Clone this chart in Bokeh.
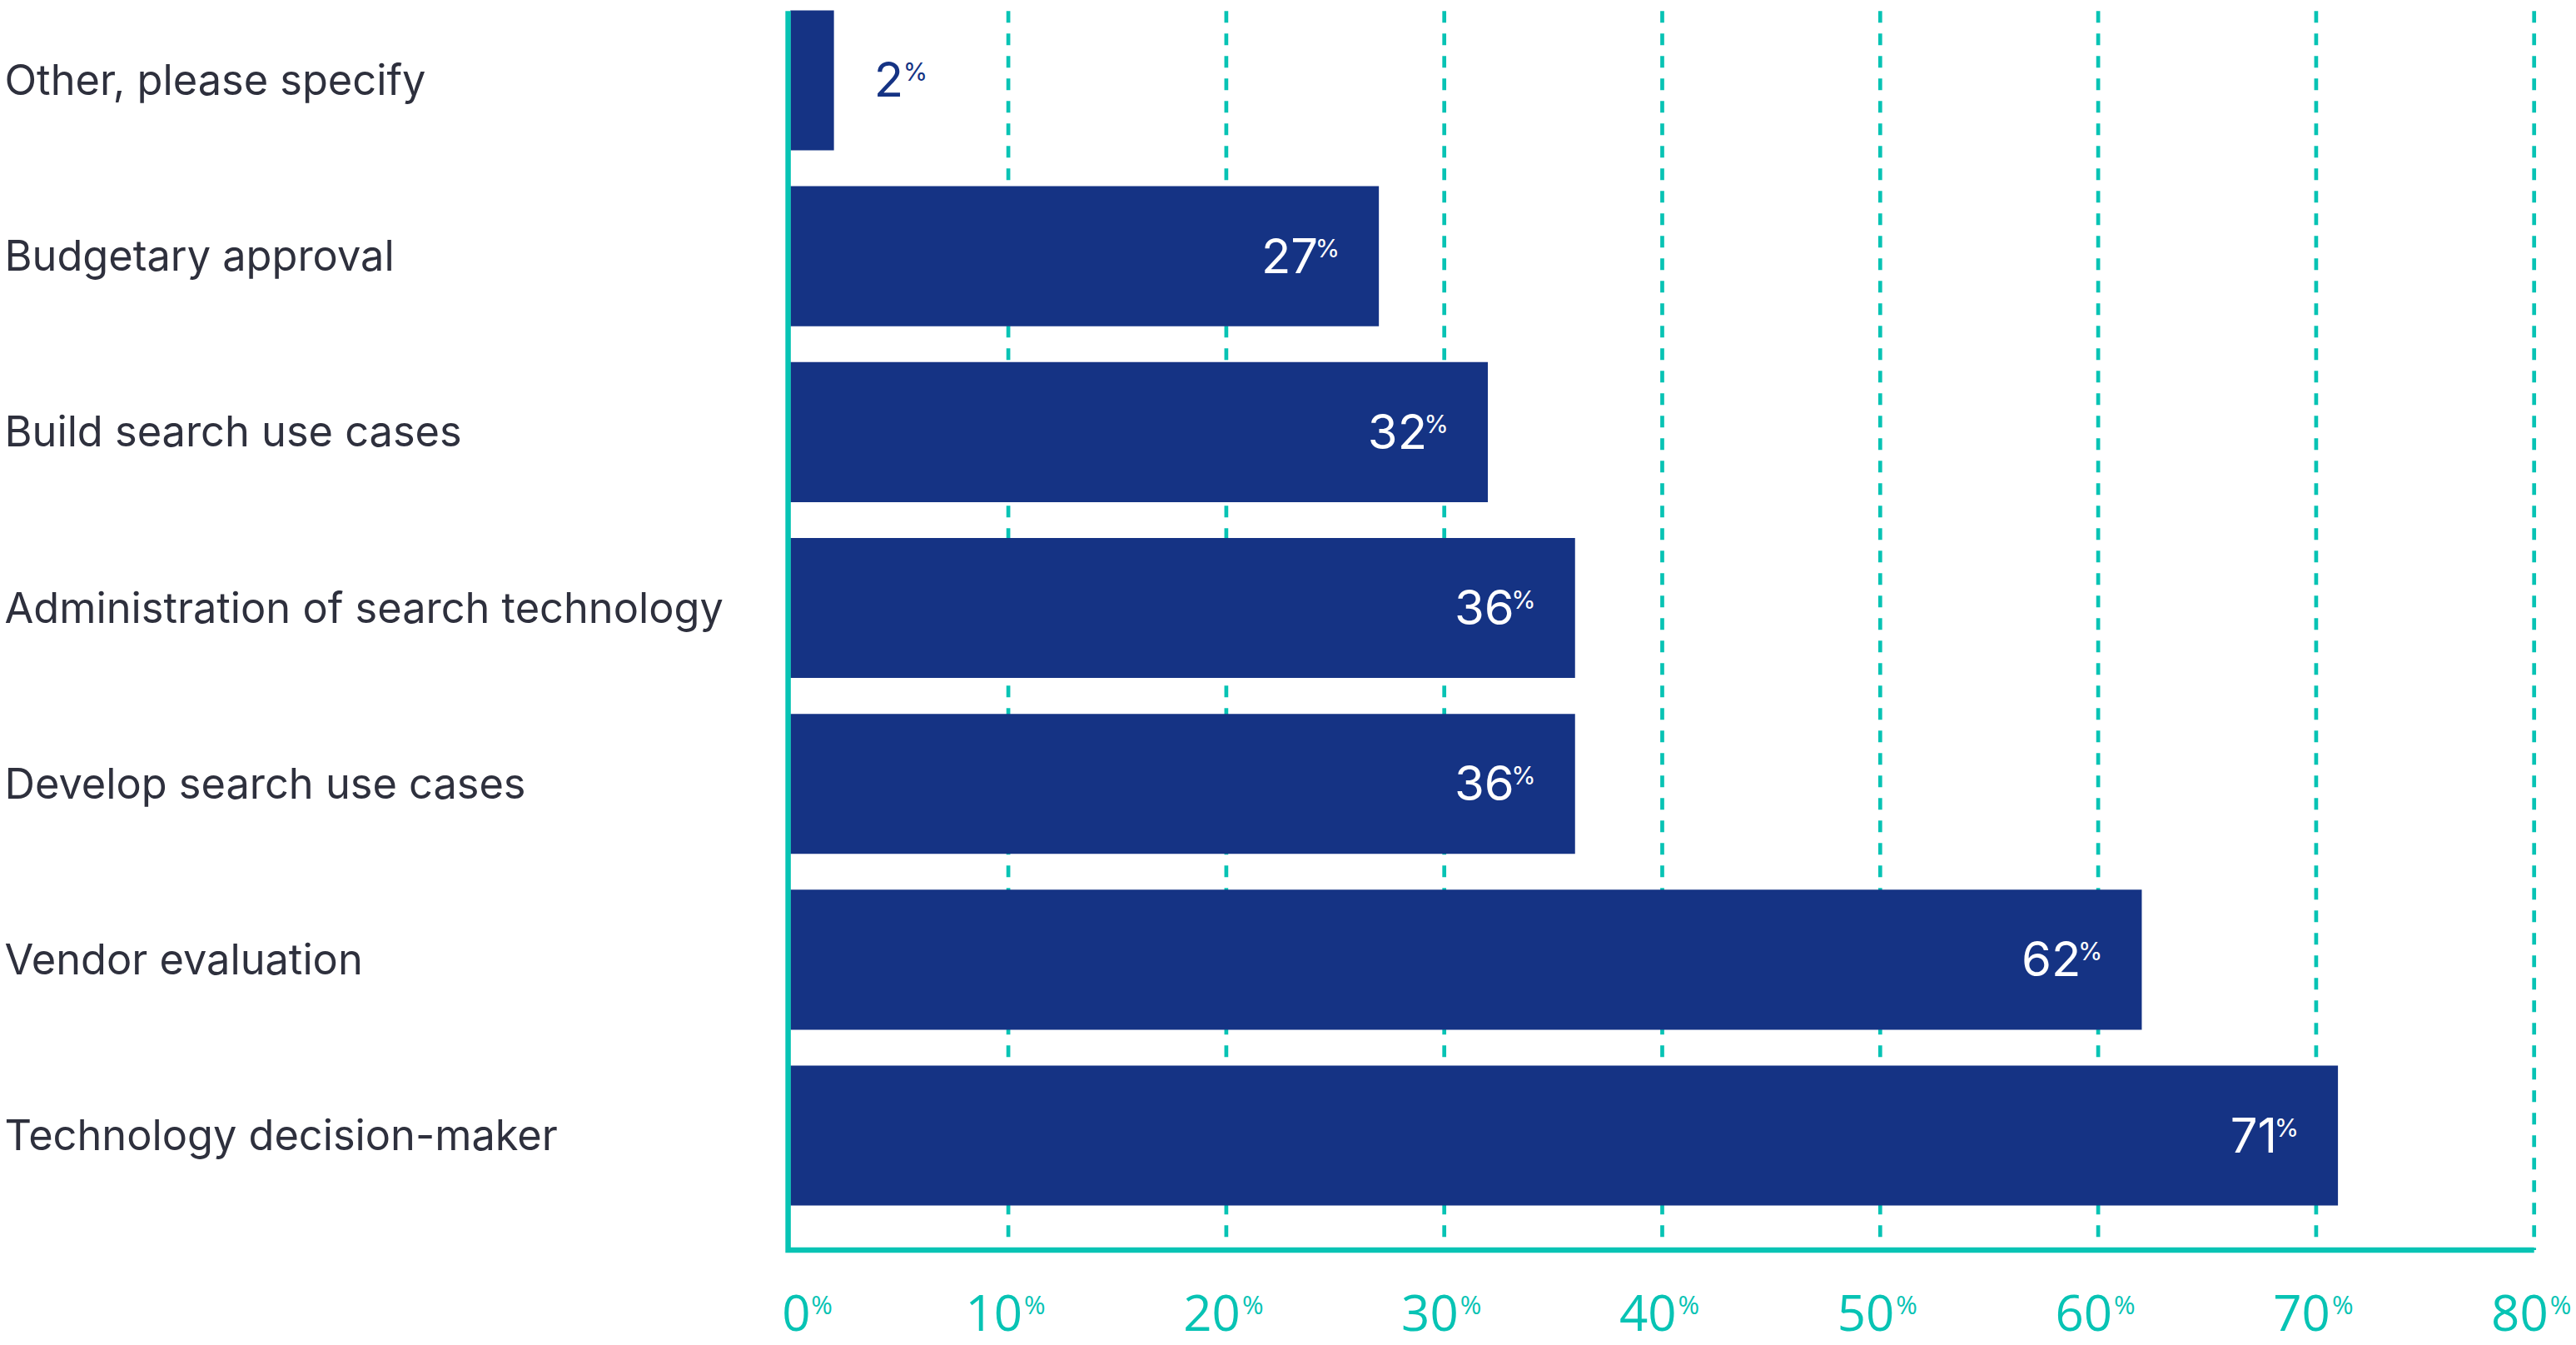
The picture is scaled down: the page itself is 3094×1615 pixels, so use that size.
from bokeh.plotting import figure
from bokeh.models import ColumnDataSource, Range1d
from bokeh.core.properties import value
from bokeh.embed import file_html
from bokeh.resources import INLINE

# ---------------- data ----------------
categories = [
    "Other, please specify",
    "Budgetary approval",
    "Build search use cases",
    "Administration of search technology",
    "Develop search use cases",
    "Vendor evaluation",
    "Technology decision-maker",
]
values = [2, 27, 32, 36, 36, 62, 71]
ticks = [0, 10, 20, 30, 40, 50, 60, 70, 80]
tick_labels = ["0", "10", "20", "30", "40", "50", "60", "70", "80"]
pct_sign = "%"

# ---------------- style ----------------
NAVY = "#153384"
TEAL = "#07c3b4"
LABEL_COLOR = "#2e303d"
W, H = 3094, 1615

n = len(categories)
ypos = [n - 1 - i for i in range(n)]

X0, X1 = -36.24, 81.94
Y0, Y1 = -1.1932, 6.4546
TOP = 6.394
BOTTOM = -0.651
TICK_Y = -1.141
AXIS_X = -0.103

p = figure(
    width=W, height=H,
    x_range=Range1d(X0, X1), y_range=Range1d(Y0, Y1),
    output_backend="svg", toolbar_location=None,
    x_axis_location=None, y_axis_location=None,
    min_border=0, outline_line_color=None,
    background_fill_color="white", border_fill_color="white",
)
p.grid.visible = False

# dashed vertical gridlines
grid_x = [t for t in ticks if t > 0]
p.segment(x0=grid_x, y0=[TOP] * len(grid_x), x1=grid_x, y1=[BOTTOM] * len(grid_x),
          line_color=TEAL, line_width=4.7, line_dash="14 13")

# bars
bars = ColumnDataSource(dict(y=ypos, v=values, cat=categories))
p.hbar(y="y", left=0, right="v", height=0.796, source=bars,
       fill_color=NAVY, line_color=None)

# axis lines (left + bottom)
p.line(x=[AXIS_X, AXIS_X, max(ticks)], y=[TOP, BOTTOM, BOTTOM],
       line_color=TEAL, line_width=6.5, line_join="miter")

# category labels
p.text(x=[X0] * n, y=ypos, text=categories, x_offset=5, y_offset=-1,
       text_font=value("Inter"), text_font_size="50.5px", text_color=LABEL_COLOR,
       text_align="left", text_baseline="alphabetic")

# value labels
inside = [i for i, v in enumerate(values) if v >= 10]
outside = [i for i, v in enumerate(values) if v < 10]
src_in = ColumnDataSource(dict(x=[values[i] for i in inside], y=[ypos[i] for i in inside],
                               t=[str(values[i]) for i in inside], pc=[pct_sign] * len(inside)))
src_out = ColumnDataSource(dict(x=[values[i] for i in outside], y=[ypos[i] for i in outside],
                                t=[str(values[i]) for i in outside], pc=[pct_sign] * len(outside)))

p.text(x="x", y="y", text="t", source=src_in, x_offset=-73, y_offset=-1,
       text_font=value("Inter"), text_font_size="58px", text_color="white",
       text_align="right", text_baseline="alphabetic")
p.text(x="x", y="y", text="pc", source=src_in, x_offset=-47, y_offset=-10,
       text_font=value("Inter"), text_font_size="30px", text_color="white",
       text_align="right", text_baseline="alphabetic")
p.text(x="x", y="y", text="t", source=src_out, x_offset=48, y_offset=-1,
       text_font=value("Inter"), text_font_size="58px", text_color=NAVY,
       text_align="left", text_baseline="alphabetic")
p.text(x="x", y="y", text="pc", source=src_out, x_offset=83, y_offset=-10,
       text_font=value("Inter"), text_font_size="30px", text_color=NAVY,
       text_align="left", text_baseline="alphabetic")

# x tick labels with superscript %
first = ColumnDataSource(dict(x=ticks[:1], y=[TICK_Y], t=tick_labels[:1], pc=[pct_sign]))
rest = ColumnDataSource(dict(x=ticks[1:], y=[TICK_Y] * (len(ticks) - 1), t=tick_labels[1:],
                             pc=[pct_sign] * (len(ticks) - 1)))
p.text(x="x", y="y", text="t", source=first, x_offset=-10, y_offset=-28,
       text_font=value("Open Sans"), text_font_size="60px", text_color=TEAL,
       text_align="left", text_baseline="alphabetic")
p.text(x="x", y="y", text="pc", source=first, x_offset=25, y_offset=-38,
       text_font=value("Open Sans"), text_font_size="31px", text_color=TEAL,
       text_align="left", text_baseline="alphabetic")
p.text(x="x", y="y", text="t", source=rest, x_offset=17, y_offset=-28,
       text_font=value("Open Sans"), text_font_size="60px", text_color=TEAL,
       text_align="right", text_baseline="alphabetic")
p.text(x="x", y="y", text="pc", source=rest, x_offset=19, y_offset=-38,
       text_font=value("Open Sans"), text_font_size="31px", text_color=TEAL,
       text_align="left", text_baseline="alphabetic")

open("out.html", "w").write(file_html(p, INLINE))
